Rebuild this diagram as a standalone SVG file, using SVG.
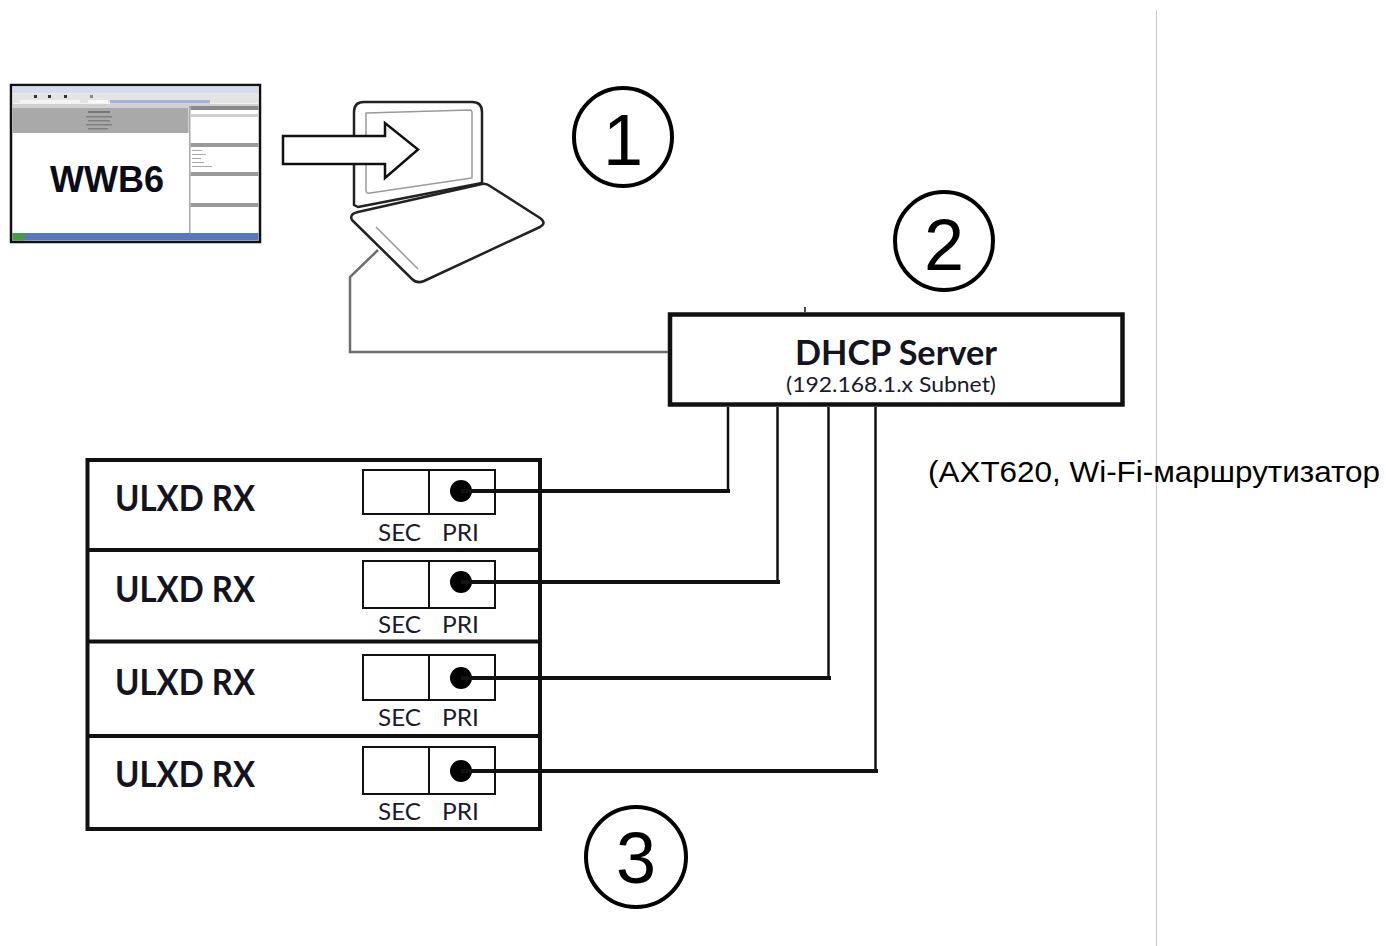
<svg xmlns="http://www.w3.org/2000/svg" width="1386" height="946" viewBox="0 0 1386 946">
  <style>
    .box { fill: #fff; stroke: #111; stroke-width: 4; }
    .port { fill: #fff; stroke: #111; stroke-width: 2; }
    .label-b { font-family: Lato, "Open Sans", "Liberation Sans", sans-serif; font-weight: 700; fill: #141420; }
    .label-r { font-family: Lato, "Open Sans", "Liberation Sans", sans-serif; font-weight: 400; fill: #1a1a30; }
    .num { font-family: "Liberation Sans", Arial, sans-serif; font-size: 72px; fill: #000; text-anchor: middle; }
    .ring { fill: none; stroke: #000; stroke-width: 4; }
    .wire { fill: none; stroke: #111; stroke-width: 2.5; }
    .wire-h { fill: none; stroke: #111; stroke-width: 4; }
    .cable { fill: none; stroke: #6e6e6e; stroke-width: 2.5; }
    .laptop { fill: #fff; stroke: #222; stroke-width: 2.5; stroke-linejoin: round; }
    .laptop-in { fill: none; stroke: #9a9a9a; stroke-width: 1.5; stroke-linejoin: round; }
  </style>

  <rect x="0" y="0" width="1386" height="946" fill="#fff"/>

  <!-- page edge on the right -->
  <line x1="1156.5" y1="10" x2="1156.5" y2="946" stroke="#c8c8c8" stroke-width="1"/>

  <!-- software screenshot -->
  <g id="wwb6">
    <rect x="11" y="85" width="249" height="157" fill="#fff" stroke="#111" stroke-width="2.5"/>
    <rect x="12.5" y="86.5" width="246" height="7" fill="#d6dcea"/>
    <rect x="12.5" y="93.5" width="246" height="10" fill="#e4e4e4"/>
    <rect x="34" y="95" width="3" height="3" fill="#333"/>
    <rect x="48" y="95" width="3" height="3" fill="#333"/>
    <rect x="64" y="95" width="3" height="3" fill="#333"/>
    <rect x="90" y="95" width="3" height="3" fill="#888"/>
    <rect x="20" y="100" width="60" height="3" fill="#f4f4f4"/>
    <rect x="88" y="100" width="20" height="3" fill="#f8f8f8"/>
    <rect x="110" y="100" width="100" height="3.5" fill="#a9b4d8"/>
    <rect x="12.5" y="104" width="246" height="4" fill="#d0d0d0"/>
    <rect x="12.5" y="108" width="176" height="25" fill="#a9a9a9"/>
    <rect x="88" y="111" width="22" height="2" fill="#777"/>
    <rect x="86" y="116" width="26" height="1.5" fill="#808080"/>
    <rect x="88" y="120" width="22" height="1.5" fill="#808080"/>
    <rect x="86" y="124" width="26" height="1.5" fill="#808080"/>
    <rect x="88" y="128" width="20" height="1.5" fill="#808080"/>
    <rect x="189" y="106" width="1.5" height="129" fill="#aaa"/>
    <rect x="190.5" y="106" width="68" height="4" fill="#8a8a8a"/>
    <rect x="190.5" y="114" width="68" height="3" fill="#cfcfcf"/>
    <rect x="190.5" y="143" width="68" height="4" fill="#9a9a9a"/>
    <rect x="192" y="150" width="10" height="1" fill="#aaa"/>
    <rect x="192" y="154" width="14" height="1" fill="#aaa"/>
    <rect x="192" y="158" width="9" height="1" fill="#aaa"/>
    <rect x="192" y="162" width="12" height="1" fill="#aaa"/>
    <rect x="192" y="166" width="20" height="1" fill="#aaa"/>
    <rect x="190.5" y="172" width="68" height="4" fill="#9a9a9a"/>
    <rect x="190.5" y="203" width="68" height="4" fill="#9a9a9a"/>
    <rect x="12.5" y="233" width="246" height="7.5" fill="#5a78b8"/>
    <rect x="12.5" y="233" width="12" height="7.5" fill="#4a9a4a"/>
    <text x="107" y="192" text-anchor="middle" font-family="'Liberation Sans', Arial, sans-serif" font-weight="700" font-size="36" fill="#0c0c18">WWB6</text>
  </g>

  <!-- laptop with import arrow -->
  <g id="laptop">
    <!-- lid -->
    <path class="laptop" d="M354,205 L354,112 Q354,102 364,102 L472,102 Q482,102 482,112 L482,183 L358,207 Z"/>
    <path class="laptop-in" d="M366,113 L470,110 Q472,110 472,113 L472,178 L370,193 Q366,194 366,190 Z"/>
    <!-- base -->
    <path class="laptop" d="M358,212 L482,184 Q486,183 490,186 L540,218 Q547,223 540,227 L424,281 Q417,284 412,279 L352,220 Q349,214 358,212 Z"/>
    <polyline class="laptop-in" points="376,227 418,269 Q421,272 425,270 L513,234"/>
    <!-- arrow -->
    <path d="M283,136 L385,136 L385,123 L418,149.5 L385,178 L385,164 L283,164 Z" fill="#fff" stroke="#111" stroke-width="2.5" stroke-linejoin="miter"/>
  </g>

  <!-- step markers -->
  <g id="step1">
    <circle class="ring" cx="623" cy="137" r="49"/>
    <text class="num" x="623" y="165">1</text>
  </g>
  <g id="step2">
    <circle class="ring" cx="944" cy="241" r="49"/>
    <text class="num" x="944" y="270">2</text>
  </g>
  <g id="step3">
    <circle class="ring" cx="636" cy="857" r="50"/>
    <text class="num" x="636" y="883">3</text>
  </g>

  <!-- DHCP server -->
  <g id="dhcp-server">
    <rect x="670" y="314.5" width="452.5" height="90" fill="#fff" stroke="#111" stroke-width="4.5"/>
    <text class="label-b" x="795" y="365" font-size="35" textLength="202" lengthAdjust="spacingAndGlyphs">DHCP Server</text>
    <text class="label-r" x="786" y="392" font-size="21" textLength="210" lengthAdjust="spacingAndGlyphs">(192.168.1.x Subnet)</text>
  </g>

  <text id="note" x="928" y="482" font-family="'Liberation Sans', Arial, sans-serif" font-size="29" textLength="452" lengthAdjust="spacingAndGlyphs" fill="#000">(AXT620, Wi-Fi-маршрутизатор</text>

  <!-- receiver rack -->
  <g id="rack">
    <rect class="box" x="87.5" y="460" width="452.5" height="369"/>
    <line x1="87.5" y1="550" x2="540" y2="550" stroke="#111" stroke-width="4"/>
    <line x1="87.5" y1="641.5" x2="540" y2="641.5" stroke="#111" stroke-width="4"/>
    <line x1="87.5" y1="736" x2="540" y2="736" stroke="#111" stroke-width="4"/>
  </g>

  <g id="rx1">
    <text class="label-b" x="115" y="511" font-size="36" textLength="140" lengthAdjust="spacingAndGlyphs">ULXD RX</text>
    <rect class="port" x="363" y="470" width="132" height="44"/>
    <line x1="429" y1="470" x2="429" y2="514" stroke="#111" stroke-width="2"/>
    <circle cx="461" cy="491" r="11" fill="#000"/>
    <text class="label-r" x="378" y="541" font-size="24" textLength="43" lengthAdjust="spacingAndGlyphs">SEC</text>
    <text class="label-r" x="442" y="541" font-size="24" textLength="37" lengthAdjust="spacingAndGlyphs">PRI</text>
  </g>

  <g id="rx2">
    <text class="label-b" x="115" y="602" font-size="36" textLength="140" lengthAdjust="spacingAndGlyphs">ULXD RX</text>
    <rect class="port" x="363" y="561" width="132" height="47"/>
    <line x1="429" y1="561" x2="429" y2="608" stroke="#111" stroke-width="2"/>
    <circle cx="461" cy="582" r="11" fill="#000"/>
    <text class="label-r" x="378" y="633" font-size="24" textLength="43" lengthAdjust="spacingAndGlyphs">SEC</text>
    <text class="label-r" x="442" y="633" font-size="24" textLength="37" lengthAdjust="spacingAndGlyphs">PRI</text>
  </g>

  <g id="rx3">
    <text class="label-b" x="115" y="695" font-size="36" textLength="140" lengthAdjust="spacingAndGlyphs">ULXD RX</text>
    <rect class="port" x="363" y="655" width="132" height="45"/>
    <line x1="429" y1="655" x2="429" y2="700" stroke="#111" stroke-width="2"/>
    <circle cx="461" cy="678" r="11" fill="#000"/>
    <text class="label-r" x="378" y="726" font-size="24" textLength="43" lengthAdjust="spacingAndGlyphs">SEC</text>
    <text class="label-r" x="442" y="726" font-size="24" textLength="37" lengthAdjust="spacingAndGlyphs">PRI</text>
  </g>

  <g id="rx4">
    <text class="label-b" x="115" y="787" font-size="36" textLength="140" lengthAdjust="spacingAndGlyphs">ULXD RX</text>
    <rect class="port" x="363" y="747" width="132" height="47"/>
    <line x1="429" y1="747" x2="429" y2="794" stroke="#111" stroke-width="2"/>
    <circle cx="461" cy="771" r="11" fill="#000"/>
    <text class="label-r" x="378" y="820" font-size="24" textLength="43" lengthAdjust="spacingAndGlyphs">SEC</text>
    <text class="label-r" x="442" y="820" font-size="24" textLength="37" lengthAdjust="spacingAndGlyphs">PRI</text>
  </g>

  <!-- connectors, drawn last so the cables run over the rack panels -->
  <g id="connectors">
    <!-- laptop to DHCP server -->
    <polyline class="cable" points="378,250 350,277 350,352 668,352"/>
    <!-- small tick above DHCP box -->
    <line x1="805" y1="307" x2="805" y2="312" stroke="#111" stroke-width="1.5"/>
    <!-- DHCP server to each receiver PRI port -->
    <polyline class="wire" points="728,407 728,491"/>
    <polyline class="wire" points="777.5,407 777.5,582"/>
    <polyline class="wire" points="828.5,407 828.5,678"/>
    <polyline class="wire" points="875.5,407 875.5,771"/>
    <line class="wire-h" x1="461" y1="491" x2="730" y2="491"/>
    <line class="wire-h" x1="461" y1="582" x2="780" y2="582"/>
    <line class="wire-h" x1="461" y1="678" x2="831" y2="678"/>
    <line class="wire-h" x1="461" y1="771" x2="878" y2="771"/>
  </g>
</svg>
